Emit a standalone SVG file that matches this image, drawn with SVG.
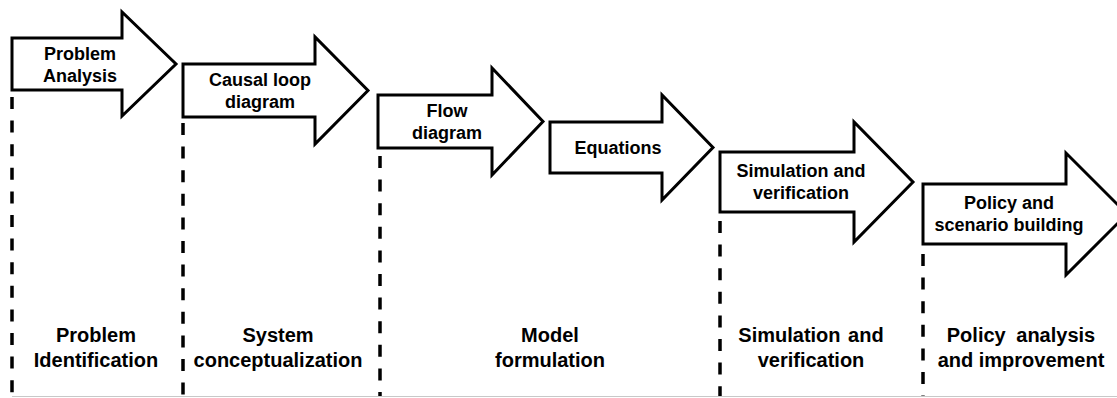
<svg xmlns="http://www.w3.org/2000/svg" width="1117" height="398" viewBox="0 0 1117 398">
<style>
.arrow{fill:#fff;stroke:#000;stroke-width:3;stroke-linejoin:miter;stroke-miterlimit:10}
.t{font-family:"Liberation Sans",Arial,sans-serif;font-weight:bold;font-size:18px;fill:#000;text-anchor:middle}
.b{font-family:"Liberation Sans",Arial,sans-serif;font-weight:bold;font-size:20px;fill:#000;text-anchor:middle}
.dash{stroke:#000;stroke-width:3.5;stroke-dasharray:12 11.6;fill:none}
</style>
<rect width="1117" height="398" fill="#fff"/>
<g id="connectors">
<line class="dash" x1="12" y1="97" x2="12" y2="396"/>
<line class="dash" x1="183" y1="123" x2="183" y2="396"/>
<line class="dash" x1="380" y1="156" x2="380" y2="396"/>
<line class="dash" x1="720" y1="221" x2="720" y2="396"/>
<line class="dash" x1="923" y1="254" x2="923" y2="396"/>
<line x1="12" y1="396.5" x2="1117" y2="396.5" stroke="#c8c8c8" stroke-width="1"/>
</g>
<g id="problem-analysis">
<polygon class="arrow" points="12,38 122,38 122,12 176,64 122,116 122,90 12,90"/>
<text class="t" x="80" y="60">Problem</text>
<text class="t" x="80" y="82">Analysis</text>
</g>
<g id="causal-loop">
<polygon class="arrow" points="183,64 315,64 315,37 368,90.5 315,144 315,117 183,117"/>
<text class="t" x="260" y="86">Causal loop</text>
<text class="t" x="260" y="108">diagram</text>
</g>
<g id="flow-diagram">
<polygon class="arrow" points="378,95 492,95 492,68 543,121.5 492,175 492,148 378,148"/>
<text class="t" x="447" y="117">Flow</text>
<text class="t" x="447" y="139">diagram</text>
</g>
<g id="equations">
<polygon class="arrow" points="550,122 662,122 662,95 713,147.5 662,200 662,173 550,173"/>
<text class="t" x="618" y="154">Equations</text>
</g>
<g id="simulation">
<polygon class="arrow" points="720,152 854,152 854,122 913,182 854,242 854,212 720,212"/>
<text class="t" x="801" y="177">Simulation and</text>
<text class="t" x="801" y="199">verification</text>
</g>
<g id="policy">
<polygon class="arrow" points="923,184 1066,184 1066,153 1127,214 1066,275 1066,244 923,244"/>
<text class="t" x="1009" y="209">Policy and</text>
<text class="t" x="1009" y="231">scenario building</text>
</g>
<g id="phase-identification">
<text class="b" x="96" y="342">Problem</text>
<text class="b" x="96" y="367">Identification</text>
</g>
<g id="phase-conceptualization">
<text class="b" x="278" y="342">System</text>
<text class="b" x="278" y="367">conceptualization</text>
</g>
<g id="phase-formulation">
<text class="b" x="550" y="342">Model</text>
<text class="b" x="550" y="367">formulation</text>
</g>
<g id="phase-simulation">
<text class="b" x="811" y="342" word-spacing="2">Simulation and</text>
<text class="b" x="811" y="367">verification</text>
</g>
<g id="phase-policy">
<text class="b" x="1021" y="342" word-spacing="5">Policy analysis</text>
<text class="b" x="1021" y="367">and improvement</text>
</g>
</svg>
